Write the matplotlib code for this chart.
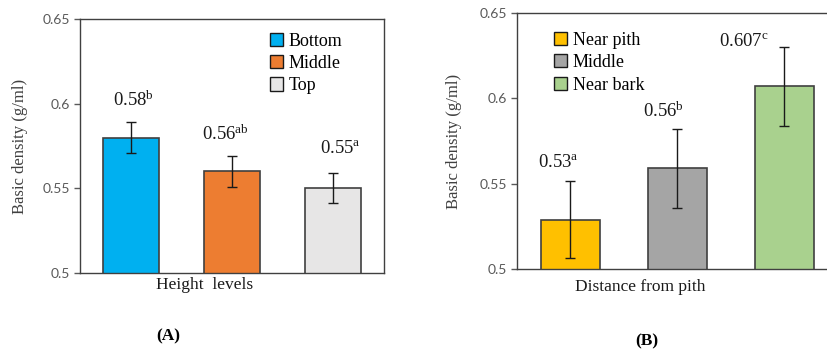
import matplotlib.pyplot as plt

plt.rcParams['mathtext.fontset'] = 'custom'
plt.rcParams['mathtext.rm'] = 'Liberation Serif'
plt.rcParams['mathtext.it'] = 'Liberation Serif'

# (A) height levels
height_cats = ['Bottom', 'Middle', 'Top']
height_vals = [0.58, 0.56, 0.55]
height_err = [0.009, 0.009, 0.0088]
height_letters = ['b', 'ab', 'a']
height_text = ['0.58', '0.56', '0.55']
height_colors = ['#00B0F0', '#ED7D31', '#E7E6E6']

# (B) radial position
radial_cats = ['Near pith', 'Middle', 'Near bark']
radial_vals = [0.529, 0.559, 0.607]
radial_err = [0.0225, 0.023, 0.023]
radial_letters = ['a', 'b', 'c']
radial_text = ['0.53', '0.56', '0.607']
radial_colors = ['#FFC000', '#A5A5A5', '#A9D18E']

serif = 'Liberation Serif'
sans = 'Lato'
edge = '#404040'

fig = plt.figure(figsize=(8.28, 3.51), dpi=100)
W, H = 828, 351


def px_axes(l, t, r, b):
    return fig.add_axes([l / W, 1 - b / H, (r - l) / W, (b - t) / H])


def panel(ax, vals, errs, colors, cats, texts, letters, offsets, xlabel, xlab_pos, legend_anchor):
    x = range(len(vals))
    bars = ax.bar(x, vals, width=0.55, color=colors, edgecolor=edge, linewidth=1.2,
                  yerr=errs, capsize=3.8, error_kw=dict(ecolor='#1a1a1a', elinewidth=1.0, capthick=1.0),
                  zorder=2)
    for i, (v, e, t, l) in enumerate(zip(vals, errs, texts, letters)):
        ax.annotate(t + r'$^{\mathrm{' + l + '}}$', xy=(i, v + e), xytext=offsets[i],
                    textcoords='offset pixels', ha='center', va='center',
                    fontsize=13.5, family=serif, color='#1a1a1a')
    ax.set_ylim(0.5, 0.65)
    ax.set_xlim(-0.5, len(vals) - 0.5)
    ax.set_yticks([0.5, 0.55, 0.6, 0.65])
    ax.set_yticklabels(['0.5', '0.55', '0.6', '0.65'])
    ax.set_xticks([])
    ax.tick_params(axis='y', direction='out', length=4, width=1, color='#595959',
                   labelcolor='#595959', labelsize=10, pad=3)
    for lab in ax.get_yticklabels():
        lab.set_family(sans)
    for s in ax.spines.values():
        s.set_color(edge)
        s.set_linewidth(1.0)
    ax.set_ylabel('Basic density (g/ml)', family=serif, fontsize=12, color='#404040')
    ax.set_xlabel(xlabel, family=serif, fontsize=12.5, color='#1a1a1a')
    ax.xaxis.set_label_coords(*xlab_pos)
    leg = ax.legend(bars, cats, loc='upper left', bbox_to_anchor=legend_anchor, frameon=False,
                    prop=dict(family=serif, size=13), handlelength=0.75, handleheight=0.75,
                    handletextpad=0.3, labelspacing=0.3, borderaxespad=0)
    for h in leg.legend_handles:
        h.set_edgecolor('#1a1a1a')
        h.set_linewidth(1.0)
    return ax


axA = px_axes(80, 19, 384, 273)
panel(axA, height_vals, height_err, height_colors, height_cats, height_text, height_letters,
      [(3, 22), (-7, 22), (7, 25)], 'Height  levels', (0.41, -0.015), (0.6, 0.975))
axA.yaxis.set_label_coords(-0.17, 0.5)

axB = px_axes(517, 13, 838, 269)
panel(axB, radial_vals, radial_err, radial_colors, radial_cats, radial_text, radial_letters,
      [(-12, 19), (-14, 18), (-41, 6)], 'Distance from pith', (0.383, -0.04), (0.092, 0.955))
axB.yaxis.set_label_coords(-0.172, 0.5)

fig.text(168 / W, 1 - 336 / H, '(A)', family=serif, weight='bold', fontsize=12.5,
         ha='center', va='center')
fig.text(647 / W, 1 - 341 / H, '(B)', family=serif, weight='bold', fontsize=12.5,
         ha='center', va='center')

fig.savefig('out.png', dpi=100)
